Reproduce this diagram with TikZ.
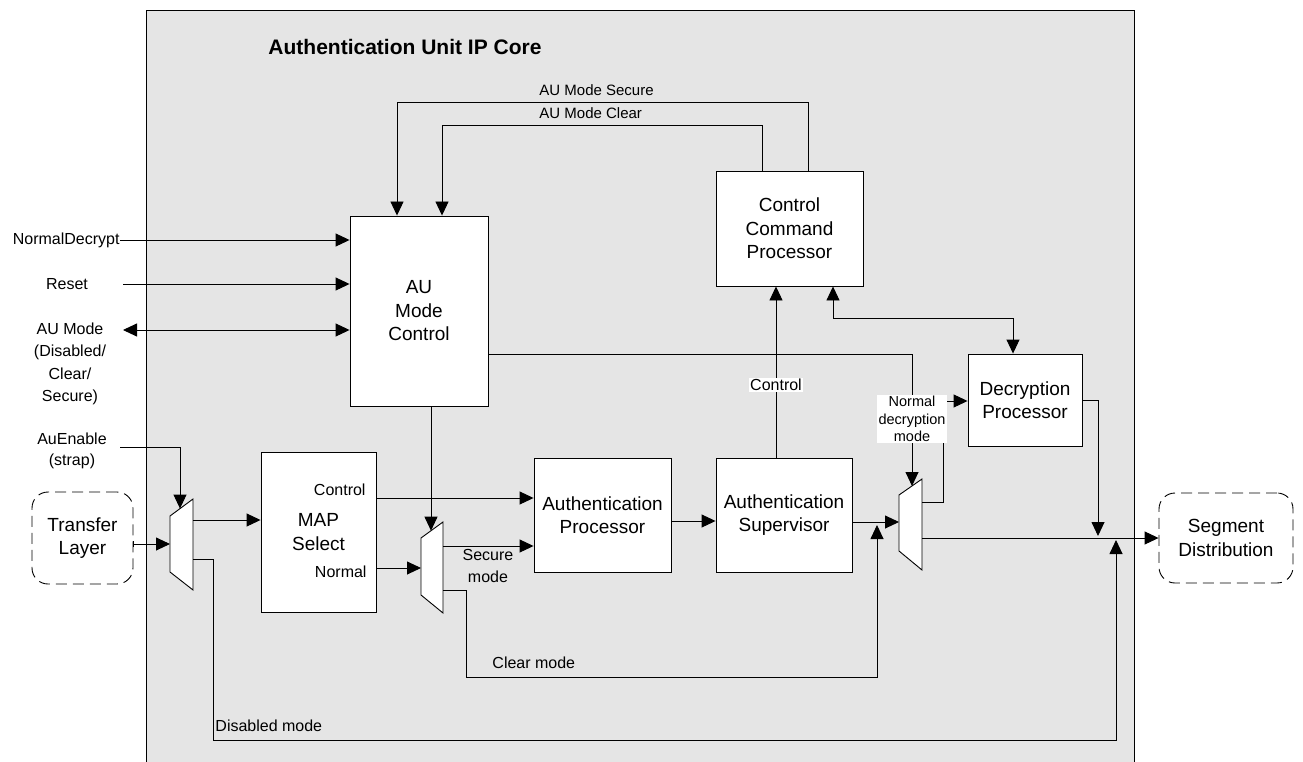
\documentclass[tikz,border=0pt]{standalone}
\usepackage{fontspec}
\setmainfont{Liberation Sans}
\usetikzlibrary{arrows.meta}

\tikzset{
  blk/.style={draw, fill=white, align=center, inner sep=0pt, font=\fontsize{19}{23.5}\selectfont},
  extblk/.style={draw, dash pattern=on 11pt off 6pt, rounded corners=16pt, fill=white, align=center, inner sep=0pt, font=\fontsize{19}{23.5}\selectfont},
  lbl/.style={inner sep=0pt, align=center, font=\fontsize{16}{22.5}\selectfont},
  mux/.style={draw, fill=white},
  arr/.style={-{Triangle[length=14pt,width=13pt]}},
  arrtwo/.style={{Triangle[length=14pt,width=13pt]}-{Triangle[length=14pt,width=13pt]}},
}

\begin{document}
\begin{tikzpicture}[x=1pt,y=-1pt,line width=0.9pt]
       \useasboundingbox(0,0)rectangle(1303,762);
       \draw[fill=gray!20](146,10)rectangle(1134,780);
       \node[anchor=west, inner sep=0pt, font=\bfseries\fontsize{21}{25}\selectfont](title)at(268,47){Authentication Unit IP Core};
       % blocks
       \node[blk, minimum width=138pt, minimum height=190pt](amc)at(419,311){AU\\Mode\\Control};
       \node[blk, minimum width=147pt, minimum height=115pt](ccp)at(789.5,228.5){Control\\Command\\Processor};
       \node[blk, minimum width=114pt, minimum height=92pt](dec)at(1025,400){Decryption\\Processor};
       \node[blk, minimum width=115pt, minimum height=160pt](map)at(318.5,532){MAP\\Select};
       \node[blk, minimum width=137pt, minimum height=114pt](ap)at(602.5,515){Authentication\\Processor};
       \node[blk, minimum width=136pt, minimum height=114pt](as)at(784,515){Authentication\\Supervisor};
       \node[extblk, minimum width=101pt, minimum height=92pt](tl)at(82.5,538){Transfer\\Layer};
       \node[extblk, minimum width=134pt, minimum height=90pt](sd)at(1226,538){Segment\\Distribution};
       % muxes
       \coordinate(MuxOneA)at(170,516);
       \coordinate(MuxOneB)at(193,499);
       \coordinate(MuxOneC)at(193,590);
       \coordinate(MuxOneD)at(170,572);
       \coordinate(MuxTwoA)at(421,538);
       \coordinate(MuxTwoB)at(443,522);
       \coordinate(MuxTwoC)at(443,613);
       \coordinate(MuxTwoD)at(421,595);
       \coordinate(MuxThreeA)at(899,495);
       \coordinate(MuxThreeB)at(922,479);
       \coordinate(MuxThreeC)at(922,570);
       \coordinate(MuxThreeD)at(899,551);
       \draw[mux](MuxOneA)--(MuxOneB)--(MuxOneC)--(MuxOneD)--cycle;
       \draw[mux](MuxTwoA)--(MuxTwoB)--(MuxTwoC)--(MuxTwoD)--cycle;
       \draw[mux](MuxThreeA)--(MuxThreeB)--(MuxThreeC)--(MuxThreeD)--cycle;
       % mode feedback
       \coordinate(SecRight)at(808,102);
       \coordinate(SecLeft)at(397,102);
       \coordinate(ClrRight)at(762,125);
       \coordinate(ClrLeft)at(442,125);
       \draw[arr](ccp.north -| SecRight)--(SecRight)--(SecLeft)--(SecLeft |- amc.north);
       \draw[arr](ccp.north -| ClrRight)--(ClrRight)--(ClrLeft)--(ClrLeft |- amc.north);
       \node[lbl, anchor=west, font=\fontsize{15}{18}\selectfont](seclbl)at(539,90){AU Mode Secure};
       \node[lbl, anchor=west, font=\fontsize{15}{18}\selectfont](clrlbl)at(539,113){AU Mode Clear};
       % inputs
       \node[lbl, anchor=east](nd)at(120,240){NormalDecrypt};
       \draw[arr](nd.east)--(nd.east -| amc.west);
       \node[lbl](rst)at(67,284){Reset};
       \coordinate(RstIn)at(123,284);
       \draw[arr](RstIn)--(RstIn -| amc.west);
       \node[lbl](aumode)at(70,364){AU Mode\\(Disabled/\\Clear/\\Secure)};
       \coordinate(ModeIn)at(123,330);
       \draw[arrtwo](ModeIn)--(ModeIn -| amc.west);
       \node[lbl, font=\fontsize{16}{21}\selectfont](auen)at(72,451){AuEnable\\(strap)};
       \coordinate(AuEnIn)at(120,447);
       \coordinate(MuxOneTop)at(180,508.6);
       \draw[arr](AuEnIn)-|(MuxOneTop);
       \coordinate(TlOut)at(133,544);
       \draw[{Bar[width=6pt]}-{Triangle[length=14pt,width=13pt]}](tl.east |- TlOut)--(TlOut -| MuxOneA);
       % datapath
       \coordinate(MuxOneOut)at(193,520);
       \coordinate(MuxOneDis)at(193,559);
       \coordinate(DisCorner)at(213,740);
       \coordinate(DisJoin)at(1116,540);
       \draw[arr](MuxOneOut)--(MuxOneOut -| map.west);
       \draw[arr](MuxOneDis)-|(DisCorner)-|(DisJoin);
       \node[lbl, anchor=west](dislbl)at(215,726){Disabled mode};
       \coordinate(MapCtl)at(376,498);
       \coordinate(MapNrm)at(376,568);
       \node[lbl, anchor=east](mapctl)at(366,490){Control};
       \node[lbl, anchor=east](mapnrm)at(367,572){Normal};
       \draw[arr](MapCtl)--(MapCtl -| ap.west);
       \draw[arr](MapNrm)--(MapNrm -| MuxTwoA);
       \coordinate(MuxTwoTop)at(431,530.7);
       \draw[arr](amc.south -| MuxTwoTop)--(MuxTwoTop);
       \coordinate(MuxTwoOut)at(443,546);
       \coordinate(MuxTwoClr)at(443,590);
       \coordinate(ClrCorner)at(466,677);
       \coordinate(ClrJoin)at(877,525);
       \draw[arr](MuxTwoOut)--(MuxTwoOut -| ap.west);
       \node[lbl](seclow)at(488,566){Secure\\mode};
       \draw[arr](MuxTwoClr)-|(ClrCorner)-|(ClrJoin);
       \node[lbl, anchor=west](clrlow)at(492,663){Clear mode};
       \coordinate(ApAs)at(671,521);
       \draw[arr](ApAs)--(ApAs -| as.west);
       \coordinate(AsOut)at(852,522);
       \draw[arr](AsOut)--(AsOut -| MuxThreeA);
       \coordinate(MuxThreeTop)at(912,486);
       \coordinate(NdmCorner)at(912,354);
       \draw[arr](amc.east |- NdmCorner)--(NdmCorner)--(MuxThreeTop);
       \coordinate(MuxThreeOut)at(922,502);
       \coordinate(DecIn)at(943,401);
       \draw[arr](MuxThreeOut)-|(DecIn)--(DecIn -| dec.west);
       \coordinate(MuxThreeSeg)at(922,538);
       \draw[arr](MuxThreeSeg)--(MuxThreeSeg -| sd.west);
       \coordinate(DecJoin)at(1098,536);
       \draw[arr](dec.east)-|(DecJoin);
       % control paths
       \coordinate(CtlUp)at(776,458);
       \draw[arr](CtlUp)--(CtlUp |- ccp.south);
       \coordinate(CcpDecA)at(833,318);
       \coordinate(CcpDecB)at(1013,318);
       \draw[arrtwo](ccp.south -| CcpDecA)--(CcpDecA)--(CcpDecB)--(CcpDecB |- dec.north);
       \node[lbl, fill=white, inner sep=1.5pt](ctllbl)at(776,385){Control};
       \node[lbl, fill=white, inner sep=1.5pt, font=\fontsize{14.5}{17.5}\selectfont](ndmlbl)at(912,419){Normal\\decryption\\mode};
      \end{tikzpicture}
\end{document}
